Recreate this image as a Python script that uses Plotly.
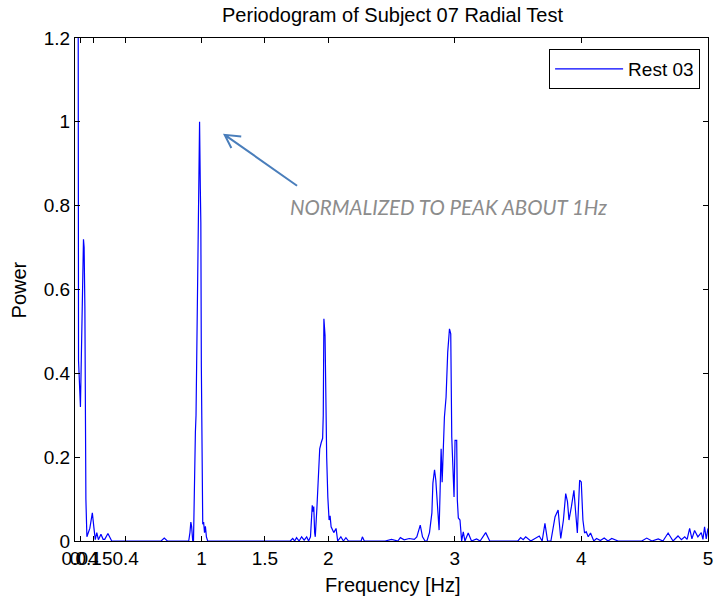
import plotly.graph_objects as go

# Periodogram samples as (frequency [Hz], normalised power) pairs, one list per band
band_low = [
    (0.000, 9.0), (0.024, 0.43), (0.028, 0.43), (0.043, 0.32), (0.049, 0.43),
    (0.060, 0.60), (0.067, 0.72), (0.072, 0.70), (0.078, 0.56), (0.086, 0.10),
    (0.094, 0.01), (0.117, 0.03), (0.137, 0.067), (0.150, 0.03), (0.160, 0.003),
    (0.172, 0.02), (0.185, 0.003), (0.205, 0.016), (0.222, 0.004), (0.235, 0.004),
    (0.260, 0.018), (0.290, 0.0), (0.400, 0.0), (0.600, 0.0), (0.680, 0.0),
    (0.705, 0.007), (0.730, 0.0), (0.880, 0.0),
]

band_1hz = [
    (0.898, 0.0), (0.908, 0.02), (0.915, 0.045), (0.921, 0.035), (0.930, 0.0),
    (0.936, 0.0), (0.943, 0.15), (0.951, 0.26), (0.956, 0.30), (0.961, 0.415),
    (0.972, 0.69), (0.976, 0.83), (0.984, 1.0), (0.990, 0.84), (0.994, 0.76),
    (0.998, 0.415), (1.002, 0.215), (1.009, 0.04), (1.016, 0.045), (1.023, 0.02),
    (1.030, 0.035), (1.038, 0.01), (1.048, 0.0),
]

band_mid = [
    (1.200, 0.0), (1.400, 0.0), (1.600, 0.0), (1.700, 0.0), (1.720, 0.006),
    (1.735, 0.0), (1.750, 0.008), (1.770, 0.0), (1.790, 0.01), (1.810, 0.002),
    (1.830, 0.01), (1.845, 0.0),
]

band_2hz = [
    (1.860, 0.01), (1.868, 0.06), (1.874, 0.085), (1.880, 0.07), (1.886, 0.082),
    (1.893, 0.02), (1.898, 0.01), (1.911, 0.08), (1.922, 0.15), (1.933, 0.22),
    (1.945, 0.235), (1.956, 0.245), (1.961, 0.30), (1.966, 0.53), (1.975, 0.49),
    (1.978, 0.375), (1.988, 0.20), (1.997, 0.105), (2.007, 0.05), (2.015, 0.06),
    (2.023, 0.034), (2.044, 0.02), (2.062, 0.03), (2.075, 0.0), (2.100, 0.01),
    (2.120, 0.0), (2.140, 0.008), (2.160, 0.0), (2.260, 0.0), (2.270, 0.01),
    (2.285, 0.0),
]

band_3hz = [
    (2.450, 0.0), (2.500, 0.004), (2.550, 0.0), (2.570, 0.008), (2.600, 0.003),
    (2.640, 0.006), (2.680, 0.004), (2.700, 0.01), (2.727, 0.038), (2.745, 0.01),
    (2.765, 0.0), (2.780, 0.0), (2.800, 0.02), (2.819, 0.067), (2.827, 0.138),
    (2.840, 0.17), (2.850, 0.145), (2.864, 0.067), (2.876, 0.026), (2.884, 0.12),
    (2.892, 0.22), (2.900, 0.14), (2.905, 0.20), (2.918, 0.296), (2.931, 0.343),
    (2.944, 0.45), (2.958, 0.506), (2.968, 0.494), (2.976, 0.248), (2.989, 0.12),
    (2.994, 0.105), (3.002, 0.24), (3.015, 0.24), (3.020, 0.098), (3.028, 0.055),
    (3.041, 0.05), (3.054, 0.0), (3.067, 0.022), (3.080, 0.0), (3.106, 0.019),
    (3.132, 0.0), (3.172, 0.005), (3.200, 0.0), (3.244, 0.02), (3.276, 0.0),
]

band_4hz = [
    (3.400, 0.0), (3.498, 0.0), (3.520, 0.008), (3.540, 0.003), (3.560, 0.01),
    (3.580, 0.004), (3.600, 0.0), (3.667, 0.012), (3.690, 0.0), (3.712, 0.042),
    (3.733, 0.0), (3.759, 0.0), (3.792, 0.058), (3.816, 0.074), (3.837, 0.006),
    (3.858, 0.05), (3.876, 0.113), (3.890, 0.094), (3.902, 0.05), (3.921, 0.082),
    (3.941, 0.121), (3.955, 0.067), (3.968, 0.019), (3.986, 0.145), (3.999, 0.141),
    (4.012, 0.05), (4.025, 0.019), (4.038, 0.022), (4.054, 0.01), (4.072, 0.019),
    (4.098, 0.0), (4.120, 0.006), (4.150, 0.001), (4.180, 0.007), (4.210, 0.0),
    (4.240, 0.006), (4.270, 0.003), (4.290, 0.0), (4.477, 0.0), (4.516, 0.007),
    (4.557, 0.0), (4.607, 0.005), (4.644, 0.0), (4.685, 0.019), (4.724, 0.0),
    (4.763, 0.012), (4.790, 0.003), (4.816, 0.01), (4.835, 0.004), (4.855, 0.03),
    (4.873, 0.005), (4.894, 0.025), (4.920, 0.01), (4.947, 0.02), (4.960, 0.004),
    (4.973, 0.034), (4.986, 0.005), (5.000, 0.03),
]

x_ticks = [0, 0.04, 0.15, 0.4, 1, 1.5, 2, 3, 4, 5]
x_tick_labels = ["0", "0.04", "0.15", "0.4", "1", "1.5", "2", "3", "4", "5"]
y_ticks = [0, 0.2, 0.4, 0.6, 0.8, 1.0, 1.2]
y_tick_labels = ["0", "0.2", "0.4", "0.6", "0.8", "1", "1.2"]

samples = band_low + band_1hz + band_mid + band_2hz + band_3hz + band_4hz
freq = [f for f, _ in samples]
power = [p for _, p in samples]

FONT = "Arial, Liberation Sans, sans-serif"

fig = go.Figure(
    go.Scatter(
        x=freq, y=power, mode="lines", name="Rest 03",
        line=dict(color="#0000ff", width=1.2),
    )
)

axis_common = dict(
    showline=True, linecolor="#000000", linewidth=1, mirror="allticks",
    ticks="inside", ticklen=5, tickcolor="#000000", showgrid=False,
    zeroline=False, tickfont=dict(family=FONT, size=19, color="#000000"),
)

fig.update_xaxes(range=[0, 5], tickvals=x_ticks, ticktext=x_tick_labels,
                 tickangle=0, **axis_common)
fig.update_yaxes(range=[0, 1.2], tickvals=y_ticks, ticktext=y_tick_labels,
                 **axis_common)

# Arrow pointing at the 1 Hz peak, drawn as an open "V" head
arrow_path = ("M 1.754,0.8476 L 1.1825,0.969 "
              "M 1.313,0.965 L 1.1825,0.969 L 1.235,0.9374")

fig.update_layout(
    width=719, height=601,
    margin=dict(l=75, r=6, t=38, b=60),
    paper_bgcolor="white", plot_bgcolor="white",
    font=dict(family=FONT, color="#000000"),
    title=dict(text="Periodogram of Subject 07 Radial Test",
               x=0.5016, xref="paper", xanchor="center",
               y=1 - 15 / 601, yref="container", yanchor="middle",
               font=dict(family=FONT, size=20, color="#000000")),
    showlegend=True,
    legend=dict(x=0.9875, xanchor="right", y=0.978, yanchor="top",
                bgcolor="white", bordercolor="#000000", borderwidth=1,
                font=dict(family=FONT, size=19, color="#000000"),
                itemwidth=68),
    shapes=[dict(type="path", path=arrow_path, xref="x", yref="y",
                 line=dict(color="#4a7ebb", width=2))],
    annotations=[
        dict(text="Frequency [Hz]", xref="paper", yref="paper",
             x=0.5016, y=-0.0875, showarrow=False,
             xanchor="center", yanchor="middle",
             font=dict(family=FONT, size=20, color="#000000")),
        dict(text="Power", xref="paper", yref="paper",
             x=-0.0878, y=0.499, showarrow=False, textangle=-90,
             xanchor="center", yanchor="middle",
             font=dict(family=FONT, size=20, color="#000000")),
        dict(text="<i>NORMALIZED TO PEAK ABOUT 1Hz</i>", xref="x", yref="y",
             x=1.684, y=0.797, showarrow=False,
             xanchor="left", yanchor="middle",
             font=dict(family="Lato, sans-serif", size=20.5, color="#8c8c8c")),
    ],
)

fig.write_html("out.html")
